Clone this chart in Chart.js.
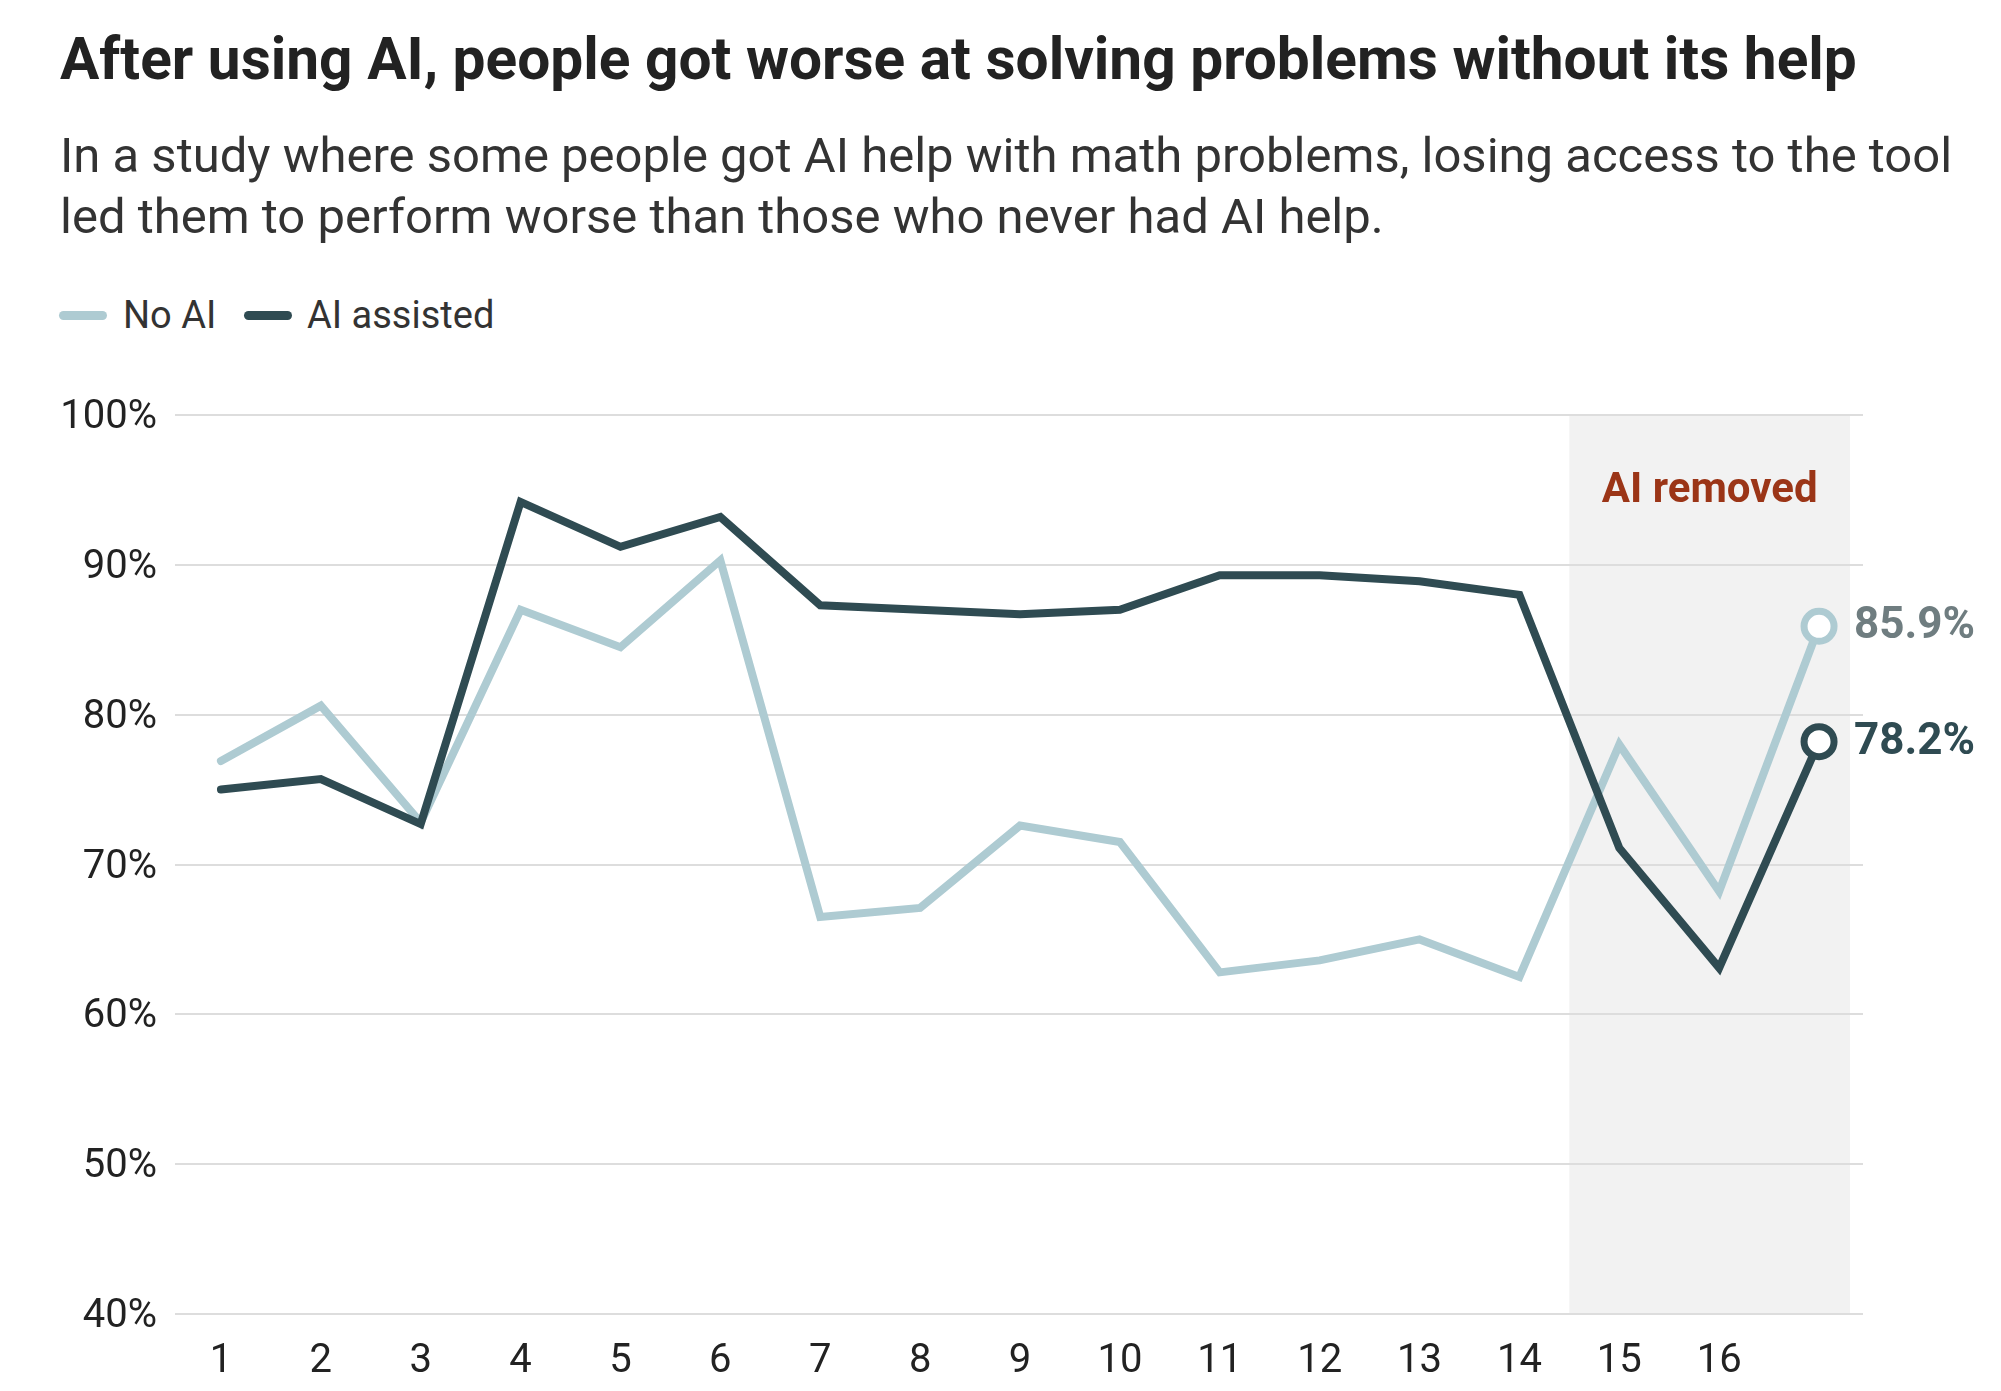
<!DOCTYPE html>
<html>
<head>
<meta charset="utf-8">
<title>After using AI, people got worse at solving problems without its help</title>
<script src="https://cdn.jsdelivr.net/npm/chart.js@4"></script>
<style>
  html, body { margin: 0; padding: 0; background: #fff; }
  body { width: 2001px; height: 1391px; position: relative; overflow: hidden;
         font-family: Roboto, "Liberation Sans", sans-serif; color: #222; }
  #chart { position: absolute; left: 0; top: 0; }
  .title { position: absolute; left: 60px; top: 30px; font-size: 58.6px; line-height: 58px;
           font-weight: bold; color: #222; white-space: nowrap; }
  .sub { position: absolute; left: 60px; top: 125px; font-size: 49px; line-height: 61px;
         color: #333; white-space: nowrap; }
  .sw { position: absolute; top: 311px; width: 48px; height: 9px; border-radius: 5px; }
  .lg { position: absolute; top: 295px; font-size: 38px; line-height: 40px; color: #333; white-space: nowrap; }
</style>
</head>
<body>
<div class="title">After using AI, people got worse at solving problems without its help</div>
<div class="sub">In a study where some people got AI help with math problems, losing access to the tool<br>led them to perform worse than those who never had AI help.</div>
<span class="sw" style="left:59px;background:#aecbd2"></span><span class="lg" style="left:123px">No AI</span>
<span class="sw" style="left:244px;background:#2f4b52"></span><span class="lg" style="left:307px">AI assisted</span>
<canvas id="chart" width="2001" height="1391"></canvas>
<script>
// question number for each point (17th point = final test, no label)
const questions = [1, 2, 3, 4, 5, 6, 7, 8, 9, 10, 11, 12, 13, 14, 15, 16, 17];
const tickLabels = [1, 2, 3, 4, 5, 6, 7, 8, 9, 10, 11, 12, 13, 14, 15, 16];
const noAI =       [76.9, 80.6, 72.8, 87.0, 84.5, 90.3, 66.5, 67.1, 72.6, 71.5, 62.8, 63.6, 65.0, 62.5, 78.0, 68.2, 85.9];
const aiAssisted = [75.0, 75.7, 72.7, 94.2, 91.2, 93.2, 87.3, 87.0, 86.7, 87.0, 89.3, 89.3, 88.9, 88.0, 71.1, 63.1, 78.2];
const yTicks = [40, 50, 60, 70, 80, 90, 100];
const removedFrom = 14.5, removedTo = 17.31;

const FONT = 'Roboto, "Liberation Sans", sans-serif';
const lightColor = '#aecbd2', darkColor = '#2f4b52';

function pts(vals) { return questions.map((q, i) => ({ x: q, y: vals[i] })); }
function lastOnly(r) { return questions.map((q, i) => i === questions.length - 1 ? r : 0); }

// grey band behind the grid for the "AI removed" questions
const shade = {
  id: 'shade',
  beforeDraw(chart) {
    const { ctx, scales: { x, y } } = chart;
    const x0 = x.getPixelForValue(removedFrom), x1 = x.getPixelForValue(removedTo);
    const y0 = y.getPixelForValue(100), y1 = y.getPixelForValue(40);
    ctx.save();
    ctx.fillStyle = '#f2f2f2';
    ctx.fillRect(x0, y0, x1 - x0, y1 - y0);
    ctx.restore();
  }
};

const labels = {
  id: 'labels',
  afterDatasetsDraw(chart) {
    const { ctx, scales: { x, y } } = chart;
    ctx.save();
    ctx.font = 'bold 42px ' + FONT;
    ctx.textBaseline = 'middle';
    ctx.textAlign = 'center';
    ctx.fillStyle = '#9b3517';
    ctx.fillText('AI removed', (x.getPixelForValue(removedFrom) + x.getPixelForValue(removedTo)) / 2, y.getPixelForValue(94.9));
    ctx.textAlign = 'left';
    ctx.font = 'bold 44px ' + FONT;
    const n = questions.length - 1;
    [[noAI, '#6f7d80'], [aiAssisted, darkColor]].forEach(([vals, col]) => {
      ctx.fillStyle = col;
      ctx.fillText(vals[n].toFixed(1) + '%', x.getPixelForValue(questions[n]) + 35, y.getPixelForValue(vals[n]) + 1);
    });
    ctx.restore();
  }
};

new Chart(document.getElementById('chart'), {
  type: 'line',
  data: {
    datasets: [
      { label: 'AI assisted', data: pts(aiAssisted), borderColor: darkColor, borderWidth: 8, order: 0,
        pointRadius: lastOnly(15), pointBorderWidth: 7, pointBackgroundColor: '#fff', pointBorderColor: darkColor },
      { label: 'No AI', data: pts(noAI), borderColor: lightColor, borderWidth: 8, order: 1,
        pointRadius: lastOnly(15), pointBorderWidth: 7, pointBackgroundColor: '#fff', pointBorderColor: lightColor }
    ]
  },
  options: {
    responsive: false,
    animation: false,
    devicePixelRatio: 1,
    layout: { padding: { top: 415, right: 138, bottom: 0, left: 0 } },
    elements: { line: { tension: 0, borderJoinStyle: 'miter', borderCapStyle: 'round' } },
    plugins: { legend: { display: false }, tooltip: { enabled: false } },
    scales: {
      x: {
        type: 'linear', min: 0.54, max: 17.44,
        afterBuildTicks: s => { s.ticks = tickLabels.map(v => ({ value: v })); },
        afterFit: s => { s.height = 77; },
        grid: { display: false, drawTicks: false },
        border: { display: false },
        ticks: { padding: 24, color: '#222', font: { family: FONT, size: 40 }, maxRotation: 0, autoSkip: false }
      },
      y: {
        min: 40, max: 100,
        afterBuildTicks: s => { s.ticks = yTicks.map(v => ({ value: v })); },
        afterFit: s => { s.width = 175; },
        grid: { color: '#dddddd', lineWidth: 2, drawTicks: false },
        border: { display: false },
        ticks: { padding: 18, labelOffset: 3, color: '#222', font: { family: FONT, size: 40 }, callback: v => v + '%' }
      }
    }
  },
  plugins: [shade, labels]
});
</script>
</body>
</html>
